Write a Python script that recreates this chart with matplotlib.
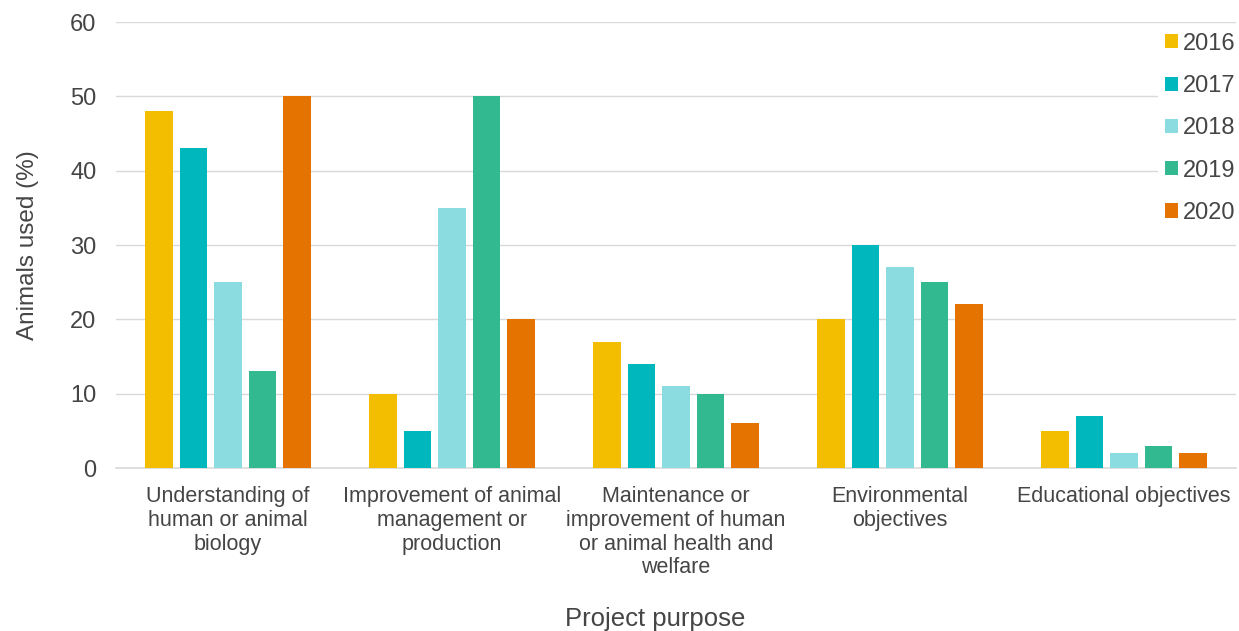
import numpy as np
import matplotlib.pyplot as plt

# Share of animals used by project purpose, per year
purposes = ['Understanding of\nhuman or animal\nbiology',
            'Improvement of animal\nmanagement or\nproduction',
            'Maintenance or\nimprovement of human\nor animal health and\nwelfare',
            'Environmental\nobjectives',
            'Educational objectives']
years = ['2016', '2017', '2018', '2019', '2020']
pct_2016 = [48, 10, 17, 20, 5]
pct_2017 = [43, 5, 14, 30, 7]
pct_2018 = [25, 35, 11, 27, 2]
pct_2019 = [13, 50, 10, 25, 3]
pct_2020 = [50, 20, 6, 22, 2]
colours = ['#F4BE00', '#00B7BD', '#8ADCE0', '#33B990', '#E57300']

plt.rcParams['font.family'] = ['Liberation Sans', 'DejaVu Sans']
text_col = '#454545'

fig = plt.figure(figsize=(12.39, 6.31), dpi=100)
ax = fig.add_axes([0.0936, 0.2583, 0.904, 0.7068])

x = np.arange(len(purposes))
pitch = 0.154
width = 0.122
for i, (yr, vals, c) in enumerate(zip(years, [pct_2016, pct_2017, pct_2018, pct_2019, pct_2020], colours)):
    ax.bar(x + (i - 2) * pitch, vals, width=width, color=c, label=yr, zorder=3)

ax.set_xlim(-0.5, len(purposes) - 0.5)
ax.set_ylim(0, 60)
ax.set_yticks(range(0, 61, 10))
ax.set_xticks(x)
ax.set_xticklabels(purposes, fontsize=15.5, color=text_col, linespacing=1.17)
ax.tick_params(axis='y', labelsize=17, colors=text_col, length=0, pad=14)
ax.tick_params(axis='x', length=0, pad=13)
ax.grid(axis='y', color='#D9D9D9', linewidth=1, zorder=0)
for s in ['top', 'right', 'left']:
    ax.spines[s].set_visible(False)
ax.spines['bottom'].set_color('#D9D9D9')
ax.spines['bottom'].set_linewidth(1.2)

ax.set_ylabel('Animals used (%)', fontsize=17.5, color=text_col, labelpad=22.5)
ax.set_xlabel('Project purpose', fontsize=18.5, color=text_col, labelpad=20.5)
ax.xaxis.label.set_x(0.481)

leg = ax.legend(loc='upper right', bbox_to_anchor=(1.006, 0.992), frameon=True,
                fontsize=17, handlelength=0.55, handleheight=0.55, handletextpad=0.22,
                labelspacing=0.86, borderpad=0.3, borderaxespad=0)
leg.get_frame().set_edgecolor('none')
leg.get_frame().set_facecolor('white')
leg.get_frame().set_alpha(1)
for t in leg.get_texts():
    t.set_color(text_col)

plt.savefig('out.png', dpi=100)
